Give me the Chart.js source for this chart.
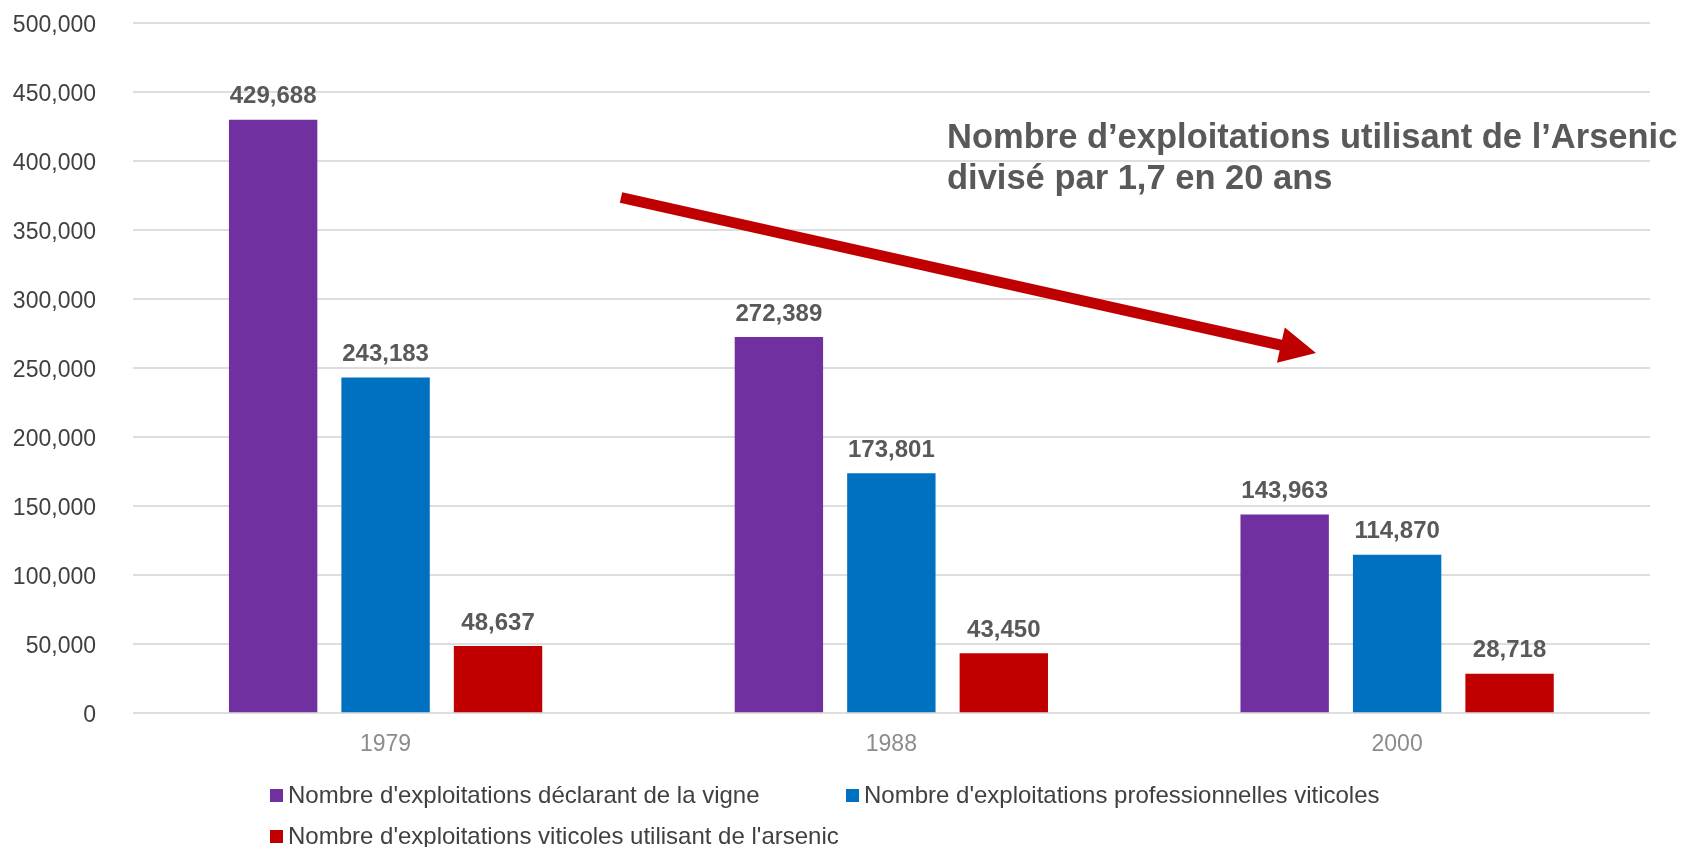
<!DOCTYPE html>
<html>
<head>
<meta charset="utf-8">
<script src="https://cdn.jsdelivr.net/npm/chart.js@4/dist/chart.umd.min.js"></script>
<style>
  html, body { margin:0; padding:0; background:#fff; }
  #chart { display:block; }
</style>
</head>
<body>
<canvas id="chart" width="1684" height="847"></canvas>
<script>
// data
const years = ['1979', '1988', '2000'];
const seriesNames = [
  "Nombre d'exploitations déclarant de la vigne",
  "Nombre d'exploitations professionnelles viticoles",
  "Nombre d'exploitations viticoles utilisant de l'arsenic"
];
const declarantVigne = [429688, 272389, 143963];
const professionnelles = [243183, 173801, 114870];
const utilisantArsenic = [48637, 43450, 28718];
const yTicks = [0, 50000, 100000, 150000, 200000, 250000, 300000, 350000, 400000, 450000, 500000];
const noteLines = ['Nombre d\u2019exploitations utilisant de l\u2019Arsenic', 'divisé par 1,7 en 20 ans'];

const colors = ['#7030A0', '#0070C0', '#C00000'];
const fontFamily = '"Liberation Sans", Arial, sans-serif';

function fmt(v){
  return v.toLocaleString('en-US');
}

// value labels on top of the bars
const valueLabels = {
  id: 'valueLabels',
  afterDatasetsDraw(chart){
    const ctx = chart.ctx;
    ctx.save();
    ctx.font = 'bold 24px ' + fontFamily;
    ctx.fillStyle = '#595959';
    ctx.textAlign = 'center';
    ctx.textBaseline = 'alphabetic';
    chart.data.datasets.forEach((ds, i) => {
      chart.getDatasetMeta(i).data.forEach((bar, j) => {
        ctx.fillText(fmt(ds.data[j]), bar.x, bar.y - 16.5);
      });
    });
    ctx.restore();
  }
};

// legend laid out in two columns like the original
const gridLegend = {
  id: 'gridLegend',
  afterDraw(chart){
    const ctx = chart.ctx;
    const cols = [270, 846];
    const rows = [796, 837];
    ctx.save();
    ctx.font = '24px ' + fontFamily;
    ctx.textBaseline = 'middle';
    ctx.textAlign = 'left';
    chart.data.datasets.forEach((ds, i) => {
      const x = cols[i % 2];
      const y = rows[Math.floor(i / 2)];
      ctx.fillStyle = ds.backgroundColor;
      ctx.fillRect(x, y - 7, 13, 13);
      ctx.fillStyle = '#404040';
      ctx.fillText(ds.label, x + 18, y);
    });
    ctx.restore();
  }
};

// red arrow and the comment
const note = {
  id: 'note',
  afterDraw(chart){
    const ctx = chart.ctx;
    const x1 = 621, y1 = 197.5, x2 = 1316, y2 = 353;
    const ang = Math.atan2(y2 - y1, x2 - x1);
    const headLen = 36, headW = 18, shaft = 5.5;
    ctx.save();
    ctx.translate(x1, y1);
    ctx.rotate(ang);
    const len = Math.hypot(x2 - x1, y2 - y1);
    ctx.fillStyle = '#C00000';
    ctx.beginPath();
    ctx.moveTo(0, -shaft);
    ctx.lineTo(len - headLen, -shaft);
    ctx.lineTo(len - headLen, -headW);
    ctx.lineTo(len, 0);
    ctx.lineTo(len - headLen, headW);
    ctx.lineTo(len - headLen, shaft);
    ctx.lineTo(0, shaft);
    ctx.closePath();
    ctx.fill();
    ctx.restore();

    ctx.save();
    ctx.font = 'bold 34.5px ' + fontFamily;
    ctx.fillStyle = '#595959';
    ctx.textBaseline = 'alphabetic';
    ctx.textAlign = 'left';
    ctx.fillText(noteLines[0], 947, 147.5);
    ctx.fillText(noteLines[1], 947, 188.5);
    ctx.restore();
  }
};

const datasets = [declarantVigne, professionnelles, utilisantArsenic].map((d, i) => ({
  label: seriesNames[i],
  data: d,
  backgroundColor: colors[i],
  borderWidth: 0,
  categoryPercentage: 0.667,
  barPercentage: 0.786
}));

const ctx = document.getElementById('chart').getContext('2d');
const myChart = new Chart(ctx, {
  type: 'bar',
  data: { labels: years, datasets: datasets },
  options: {
    responsive: false,
    animation: false,
    layout: { padding: { top: 22.7, right: 34, bottom: 0, left: 0 } },
    plugins: {
      legend: { display: false },
      tooltip: { enabled: false }
    },
    scales: {
      x: {
        grid: { display: false, drawTicks: false },
        border: { display: false },
        ticks: { color: '#8c8c8c', font: { family: fontFamily, size: 23 }, padding: 18 },
        afterFit(scale){ scale.height = 133.7; }
      },
      y: {
        min: 0,
        max: 500000,
        afterBuildTicks(scale){ scale.ticks = yTicks.map(v => ({ value: v })); },
        grid: { color: '#dedede', lineWidth: 2, drawTicks: false },
        border: { display: false },
        ticks: {
          color: '#404040',
          font: { family: fontFamily, size: 23 },
          padding: 36.7,
          labelOffset: 2.5,
          callback: v => fmt(v)
        },
        afterFit(scale){
          scale.width = 132.7;
          // the big tick padding should not push the plot top down
          scale.paddingTop = 0;
          scale.paddingBottom = 0;
        }
      }
    }
  },
  plugins: [valueLabels, gridLegend, note]
});
</script>
</body>
</html>
